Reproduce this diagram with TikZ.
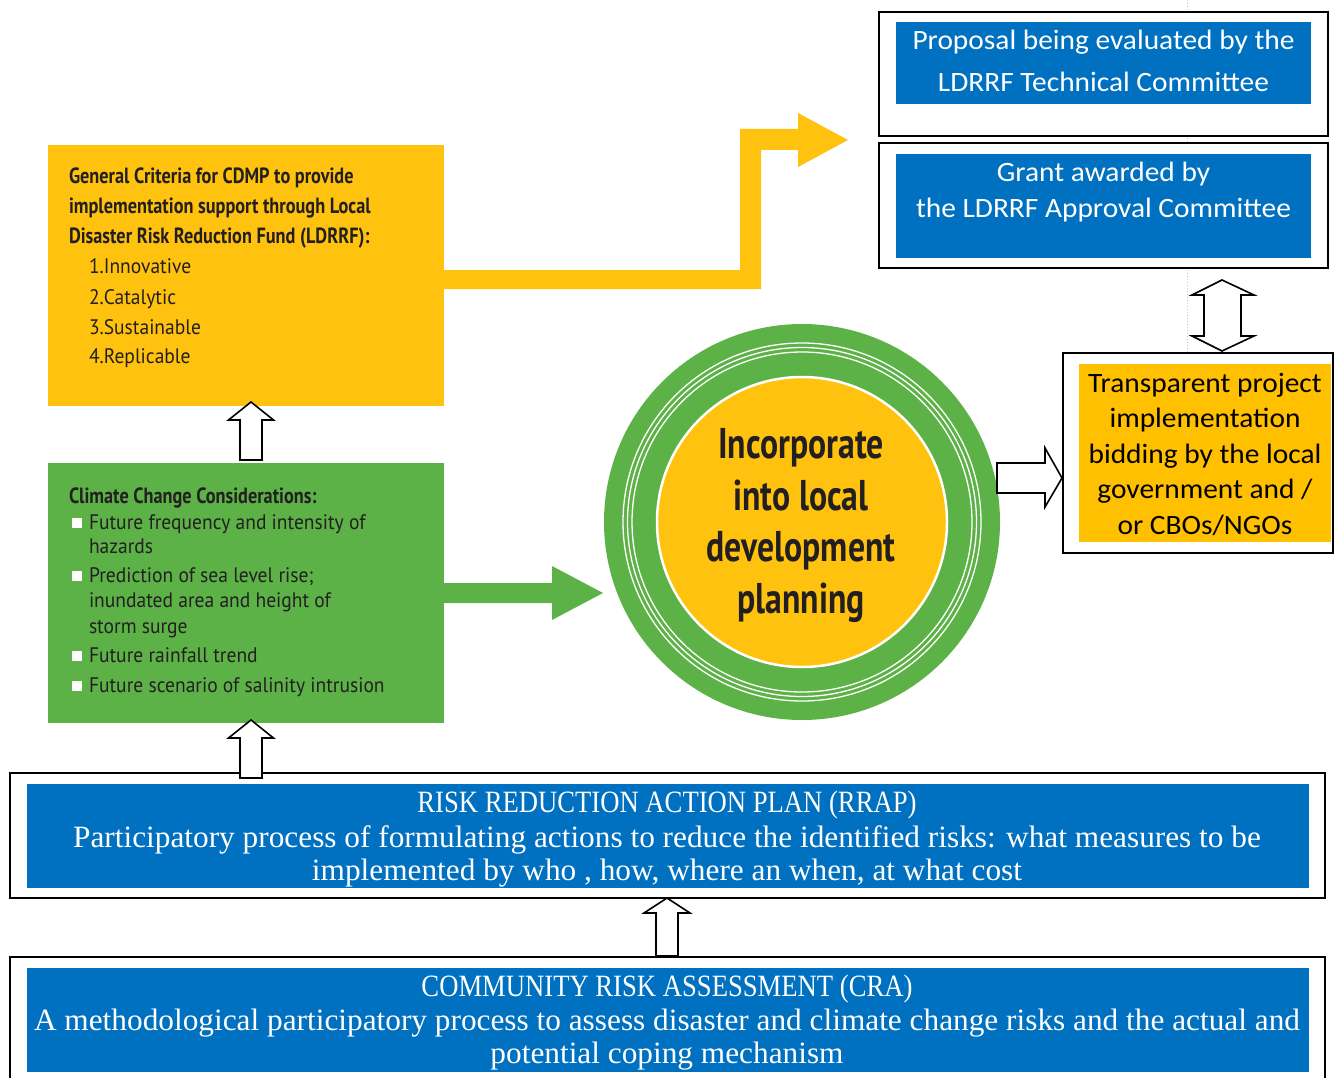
\documentclass[tikz,border=0pt]{standalone}
\usepackage{fontspec}
\setmainfont{Liberation Serif}
\newfontfamily\calib[FakeStretch=1.05]{Carlito}
\newfontfamily\myr[FakeStretch=0.93]{PT Sans}
\newfontfamily\myrb[FakeStretch=0.83]{PT Sans}
\newfontfamily\myrc[FakeStretch=0.785]{PT Sans}
\newfontfamily\camb[FakeStretch=1.01]{Liberation Serif}
\newfontfamily\cambcap[FakeStretch=0.86]{Liberation Serif}
\usetikzlibrary{calc}
\definecolor{oblue}{HTML}{0070C0}
\definecolor{oorange}{HTML}{FFC000}
\definecolor{cyel}{HTML}{FFC20E}
\definecolor{cgreen}{HTML}{5CB247}
\definecolor{ink}{HTML}{231F20}
\tikzset{
  outerbox/.style={draw=black, line width=2, fill=white, inner sep=0, outer sep=0},
  fillbox/.style={draw=none, inner sep=0, outer sep=0},
  hollow/.style={draw=black, fill=white, line width=1.6, line join=miter},
  ln/.style={anchor=base, inner sep=0, outer sep=0},
  lnw/.style={anchor=base west, inner sep=0, outer sep=0},
  bluetxt/.style={ln, text=white, font=\calib\fontsize{28}{32}\selectfont},
  orgtxt/.style={ln, text=black, font=\calib\fontsize{28}{32}\selectfont},
  headtxt/.style={lnw, text=ink, font=\myrb\bfseries\fontsize{22}{26}\selectfont},
  itemtxt/.style={lnw, text=ink, font=\myr\fontsize{21}{24}\selectfont},
  circtxt/.style={ln, text=ink, font=\myrc\bfseries\fontsize{43}{50}\selectfont},
  seriftxt/.style={ln, text=white, font=\camb\fontsize{31}{34}\selectfont},
  capstxt/.style={ln, text=white, font=\cambcap\fontsize{31}{34}\selectfont},
  bullet/.style={fill=white, draw=none, minimum size=10, inner sep=0, outer sep=0, anchor=south west}
}
\begin{document}
\begin{tikzpicture}[x=1pt,y=-1pt]
\useasboundingbox (0,0) rectangle (1335,1078);

% grey dotted guide line
\coordinate (gtop) at (1187,0);
\coordinate (gbot) at (1187,352);
\draw[gray!45, line width=1, dotted] (gtop) -- (gbot);

% top right boxes
\node[outerbox, minimum width=449, minimum height=124] (ob1) at (1103.5,74) {};
\node[fillbox, fill=oblue, minimum width=415, minimum height=82] (b1) at (1103.5,63) {};
\node[bluetxt] (t1a) at (1103.5,50) {Proposal being evaluated by the};
\node[bluetxt] (t1b) at (1103.5,92) {LDRRF Technical Committee};

\node[outerbox, minimum width=449, minimum height=125] (ob2) at (1103.5,205.5) {};
\node[fillbox, fill=oblue, minimum width=415, minimum height=104] (b2) at (1103.5,206) {};
\node[bluetxt] (t2a) at (1103.5,182) {Grant awarded by};
\node[bluetxt] (t2b) at (1103.5,218) {the LDRRF Approval Committee};

% transparent project box
\node[outerbox, minimum width=270, minimum height=200] (ob3) at (1198,453) {};
\node[fillbox, fill=oorange, minimum width=252, minimum height=178] (b3) at (1205,453) {};
\node[orgtxt] (t3a) at (1205,392) {Transparent project};
\node[orgtxt] (t3b) at (1205,427.5) {implementation};
\node[orgtxt] (t3c) at (1205,463) {bidding by the local};
\node[orgtxt] (t3d) at (1205,498.5) {government and /};
\node[orgtxt] (t3e) at (1205,534) {or CBOs/NGOs};

% yellow criteria box
\node[fillbox, fill=cyel, minimum width=396, minimum height=261] (yel) at (246,275.5) {};
\node[headtxt] (y1) at (69,184) {General Criteria for CDMP to provide};
\node[headtxt] (y2) at (69,214) {implementation support through Local};
\node[headtxt] (y3) at (69,243) {Disaster Risk Reduction Fund (LDRRF):};
\node[itemtxt] (y4) at (89,273) {1.Innovative};
\node[itemtxt] (y5) at (89,304) {2.Catalytic};
\node[itemtxt] (y6) at (89,334) {3.Sustainable};
\node[itemtxt] (y7) at (89,363) {4.Replicable};

% green climate box
\node[fillbox, fill=cgreen, minimum width=396, minimum height=260] (grn) at (246,593) {};
\node[headtxt] (g0) at (69,503) {Climate Change Considerations:};
\node[bullet] (q1) at (72,528) {};
\node[itemtxt] (g1) at (89,529) {Future frequency and intensity of};
\node[itemtxt] (g2) at (89,553) {hazards};
\node[bullet] (q2) at (72,581) {};
\node[itemtxt] (g3) at (89,582) {Prediction of sea level rise;};
\node[itemtxt] (g4) at (89,607) {inundated area and height of};
\node[itemtxt] (g5) at (89,633) {storm surge};
\node[bullet] (q3) at (72,661) {};
\node[itemtxt] (g6) at (89,662) {Future rainfall trend};
\node[bullet] (q4) at (72,691) {};
\node[itemtxt] (g7) at (89,692) {Future scenario of salinity intrusion};

% yellow bent arrow
\fill[cyel] (444,270) -- (740,270) -- (740,129) -- (798,129) -- (798,113) -- (848,140)
  -- (798,167) -- (798,150) -- (761,150) -- (761,289) -- (444,289) -- cycle;
% green arrow
\fill[cgreen] (444,583) -- (552,583) -- (552,566) -- (603,593) -- (552,620) -- (552,603) -- (444,603) -- cycle;

% circle
\node[circle, fill=cgreen, minimum size=396, inner sep=0] (circ) at (802,522) {};
\draw[white, line width=1.3] (circ.center) circle[radius=179];
\draw[white, line width=1.3] (circ.center) circle[radius=174.5];
\draw[white, line width=1.3] (circ.center) circle[radius=170];
\draw[white, line width=2.5, fill=cyel] (circ.center) circle[radius=145];
\node[circtxt] (c1) at (801,458) {Incorporate};
\node[circtxt] (c2) at (801,510) {into local};
\node[circtxt] (c3) at (801,561) {development};
\node[circtxt] (c4) at (801,613) {planning};

% bottom boxes
\node[outerbox, minimum width=1315, minimum height=125] (ob4) at (667.5,835.5) {};
\node[fillbox, fill=oblue, minimum width=1282, minimum height=104] (b4) at (668,836) {};
\node[capstxt] (r1) at (667,812) {RISK REDUCTION ACTION PLAN (RRAP)};
\node[seriftxt] (r2) at (667,847) {Participatory process of formulating actions to reduce the identified risks: what measures to be};
\node[seriftxt] (r3) at (667,880) {implemented by who , how, where an when, at what cost};

\node[outerbox, minimum width=1315, minimum height=140] (ob5) at (667.5,1027) {};
\node[fillbox, fill=oblue, minimum width=1282, minimum height=104] (b5) at (668,1020) {};
\node[capstxt] (k1) at (667,996) {COMMUNITY RISK ASSESSMENT (CRA)};
\node[seriftxt] (k2) at (667,1030) {A methodological participatory process to assess disaster and climate change risks and the actual and};
\node[seriftxt] (k3) at (667,1063) {potential coping mechanism};

% hollow arrows
\draw[hollow] (240,460) -- (240,420) -- (228.5,420) -- (251,402) -- (273.5,420) -- (262,420) -- (262,460) -- cycle;
\draw[hollow] (240,778) -- (240,738) -- (228.5,738) -- (251,720) -- (273.5,738) -- (262,738) -- (262,778) -- cycle;
\draw[hollow] (656,956) -- (656,913) -- (644,913) -- (667,898) -- (690,913) -- (678,913) -- (678,956) -- cycle;
\draw[hollow] (1222,280) -- (1254,295) -- (1241,295) -- (1241,336) -- (1254,336) -- (1222,351)
  -- (1192,336) -- (1204,336) -- (1204,295) -- (1192,295) -- cycle;
\draw[hollow] (997,463) -- (1045,463) -- (1045,448) -- (1062,478) -- (1045,507) -- (1045,493) -- (997,493) -- cycle;
\end{tikzpicture}
\end{document}
